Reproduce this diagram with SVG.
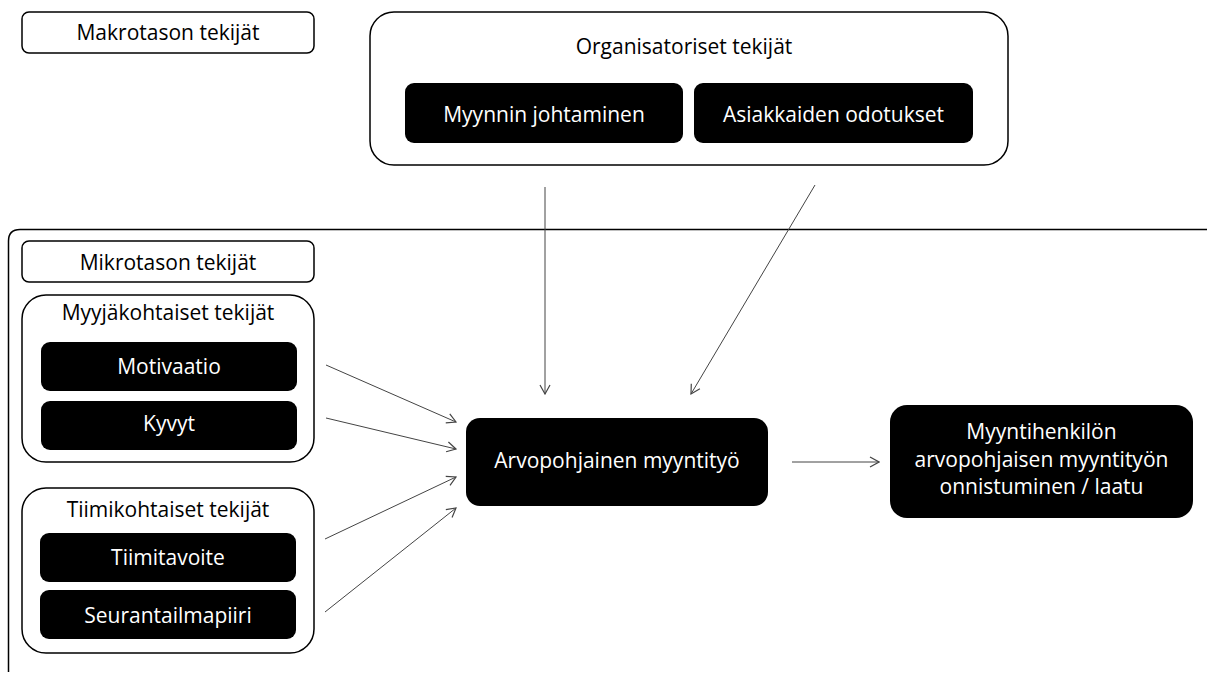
<svg xmlns="http://www.w3.org/2000/svg" width="1207" height="675" viewBox="0 0 1207 675">
  <style>
    .frame { fill: #fff; stroke: #000; stroke-width: 1.5; }
    .solid { fill: #000; }
    .lbl { font-family: "Open Sans", "Liberation Sans", sans-serif; font-size: 21px; text-anchor: middle; fill: #000; }
    .inv { fill: #fff; }
    .conn { stroke: #444; stroke-width: 1; fill: none; marker-end: url(#arrow); }
  </style>
  <defs>
    <marker id="arrow" markerUnits="userSpaceOnUse" markerWidth="12" markerHeight="12" viewBox="0 0 12 12" refX="11" refY="6" orient="auto">
      <path d="M2,1 L11,6 L2,11" fill="none" stroke="#444" stroke-width="1.2"/>
    </marker>
  </defs>

  <rect width="1207" height="675" fill="#fff"/>

  <!-- micro-level outer frame, runs off the right and bottom edges -->
  <g id="micro-frame">
    <path d="M8.5,672 L8.5,241 Q8.5,229.5 20,229.5 L1207,229.5" fill="none" stroke="#000" stroke-width="1.5"/>
  </g>

  <g id="makrotason">
    <rect class="frame" x="22" y="12" width="292" height="41" rx="7"/>
    <text class="lbl" x="168" y="40">Makrotason tekijät</text>
  </g>

  <g id="organisatoriset">
    <rect class="frame" x="370" y="12" width="638" height="153" rx="24"/>
    <text class="lbl" x="684" y="54">Organisatoriset tekijät</text>
  </g>

  <g id="myynnin-johtaminen">
    <rect class="solid" x="405" y="83" width="278" height="60" rx="9"/>
    <text class="lbl inv" x="544" y="122">Myynnin johtaminen</text>
  </g>

  <g id="asiakkaiden-odotukset">
    <rect class="solid" x="694" y="83" width="279" height="60" rx="9"/>
    <text class="lbl inv" x="833.5" y="122">Asiakkaiden odotukset</text>
  </g>

  <g id="mikrotason">
    <rect class="frame" x="22" y="241" width="292" height="41" rx="7"/>
    <text class="lbl" x="168" y="270">Mikrotason tekijät</text>
  </g>

  <g id="myyjakohtaiset">
    <rect class="frame" x="22" y="295" width="292" height="167" rx="24"/>
    <text class="lbl" x="168" y="320">Myyjäkohtaiset tekijät</text>
  </g>

  <g id="motivaatio">
    <rect class="solid" x="41" y="342" width="256" height="49" rx="9"/>
    <text class="lbl inv" x="169" y="374">Motivaatio</text>
  </g>

  <g id="kyvyt">
    <rect class="solid" x="41" y="401" width="256" height="49" rx="9"/>
    <text class="lbl inv" x="169" y="431">Kyvyt</text>
  </g>

  <g id="tiimikohtaiset">
    <rect class="frame" x="22" y="488" width="292" height="165" rx="24"/>
    <text class="lbl" x="168" y="517">Tiimikohtaiset tekijät</text>
  </g>

  <g id="tiimitavoite">
    <rect class="solid" x="40" y="533" width="256" height="49" rx="9"/>
    <text class="lbl inv" x="168" y="565">Tiimitavoite</text>
  </g>

  <g id="seurantailmapiiri">
    <rect class="solid" x="40" y="590" width="256" height="49" rx="9"/>
    <text class="lbl inv" x="168" y="623">Seurantailmapiiri</text>
  </g>

  <g id="arvopohjainen">
    <rect class="solid" x="466" y="418" width="302" height="88" rx="14"/>
    <text class="lbl inv" x="617" y="468">Arvopohjainen myyntityö</text>
  </g>

  <g id="onnistuminen">
    <rect class="solid" x="890" y="405" width="303" height="113" rx="17"/>
    <text class="lbl inv" x="1041.5" y="439">Myyntihenkilön</text>
    <text class="lbl inv" x="1041.5" y="466.5">arvopohjaisen myyntityön</text>
    <text class="lbl inv" x="1041.5" y="494">onnistuminen / laatu</text>
  </g>

  <g id="connectors">
    <line class="conn" x1="545" y1="187" x2="545" y2="394"/>
    <line class="conn" x1="815" y1="185" x2="691" y2="394"/>
    <line class="conn" x1="326" y1="365" x2="456" y2="422"/>
    <line class="conn" x1="326" y1="418" x2="456" y2="449"/>
    <line class="conn" x1="325" y1="539" x2="456" y2="477"/>
    <line class="conn" x1="325" y1="612" x2="456" y2="508"/>
    <line class="conn" x1="792" y1="462" x2="879" y2="462"/>
  </g>
</svg>
